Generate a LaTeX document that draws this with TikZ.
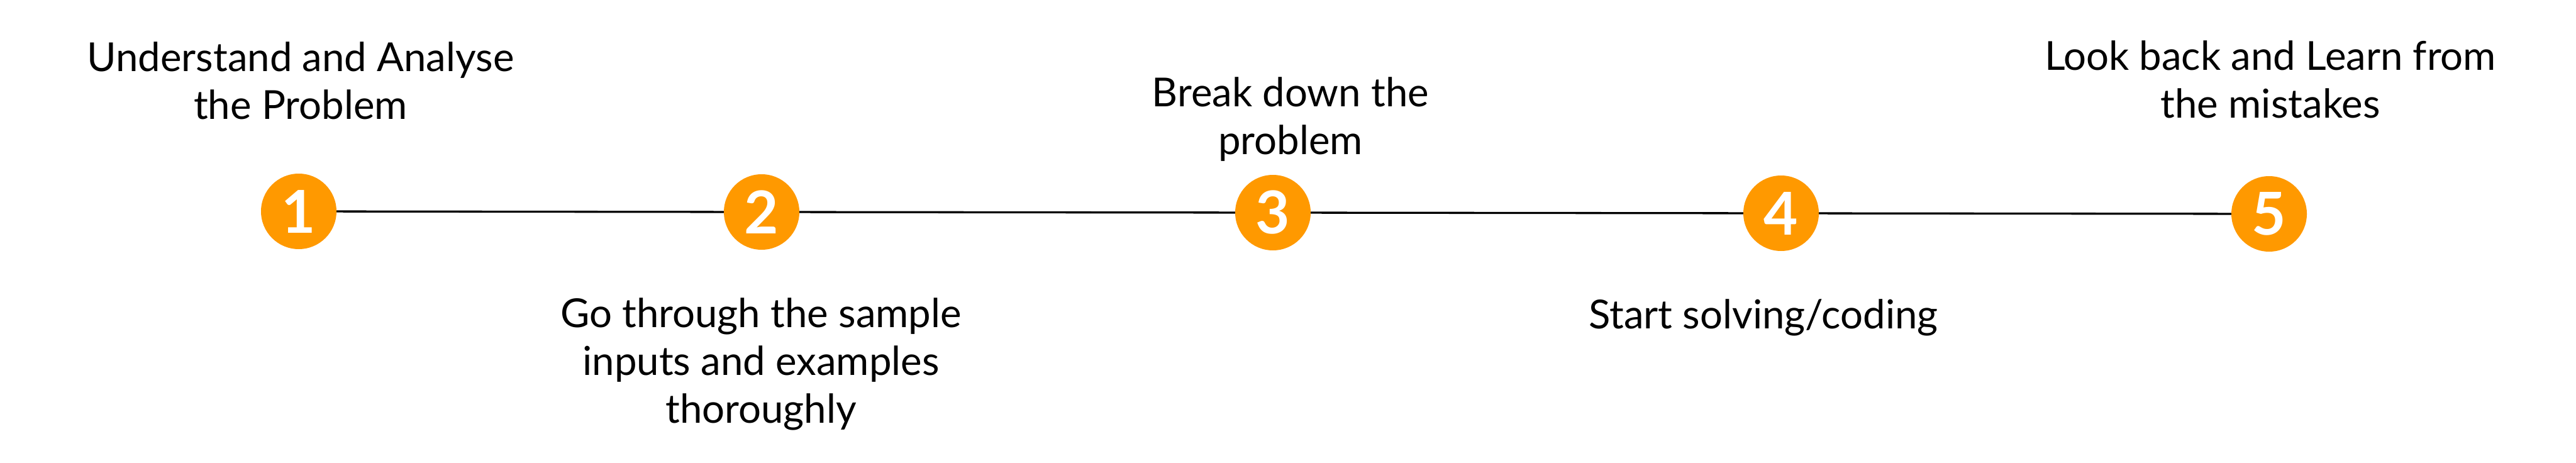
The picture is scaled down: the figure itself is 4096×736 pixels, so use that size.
\documentclass[tikz,border=0pt]{standalone}
\usepackage{fontspec}
\setmainfont{Lato}
\newfontfamily\numfont{Lato Bold}
\definecolor{stepor}{RGB}{255,153,0}
\begin{document}
\begin{tikzpicture}[x=1pt,y=-1pt,
  stepcirc/.style={circle,fill=stepor,minimum size=120pt,inner sep=0pt,text=white,font=\numfont\fontsize{94}{94}\selectfont},
  steplabel/.style={align=center,text=black,font=\fontsize{63.5}{76}\selectfont,inner sep=0pt},
  conn/.style={line width=3.3pt,black}]
\useasboundingbox (0,0) rectangle (4096,736);
\fill[white] (0,0) rectangle (4096,736);
\node[stepcirc] (c1) at (475,336) {1};
\node[stepcirc] (c2) at (1211,337) {2};
\node[stepcirc] (c3) at (2024,338) {3};
\node[stepcirc] (c4) at (2832,339) {4};
\node[stepcirc] (c5) at (3608,340) {5};
\draw[conn] (c1) -- (c2);
\draw[conn] (c2) -- (c3);
\draw[conn] (c3) -- (c4);
\draw[conn] (c4) -- (c5);
\node[steplabel,anchor=base] (t1) at (478,189) {Understand and Analyse\\the Problem};
\node[steplabel,anchor=base] (t2) at (1210,672) {Go through the sample\\inputs and examples\\thoroughly};
\node[steplabel,anchor=base] (t3) at (2052,245) {Break down the\\problem};
\node[steplabel,anchor=base] (t4) at (2804,522) {Start solving/coding};
\node[steplabel,anchor=base] (t5) at (3610,187) {Look back and Learn from\\the mistakes};
\end{tikzpicture}
\end{document}
